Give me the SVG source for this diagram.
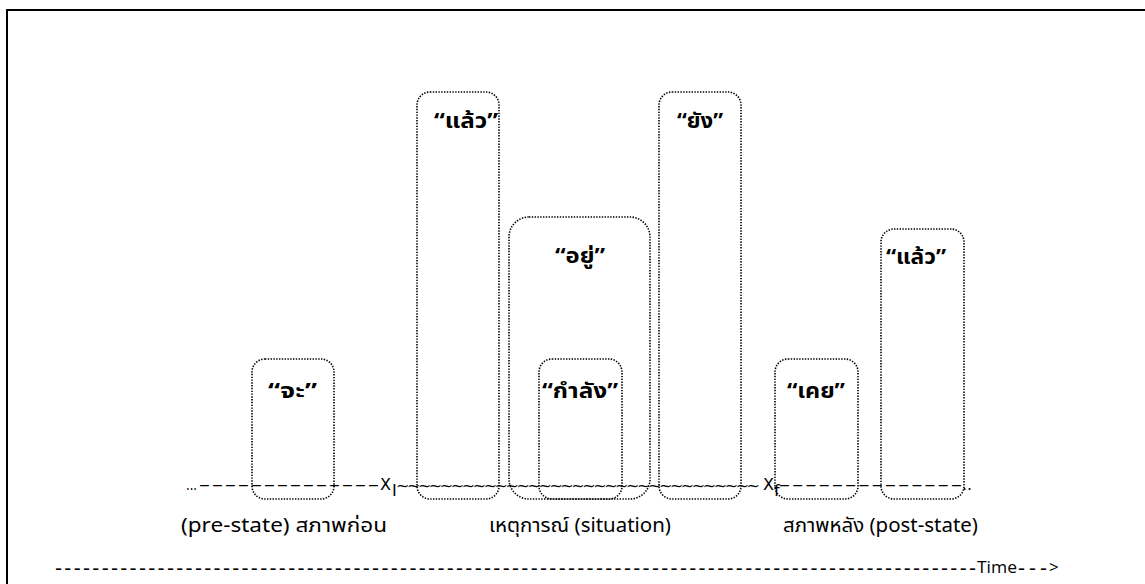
<svg xmlns="http://www.w3.org/2000/svg" width="1145" height="584" viewBox="0 0 1145 584">
<style>
.box{fill:none;stroke:#000;stroke-width:1.6;stroke-dasharray:1.4 1.4}
.lbl{font-family:"Noto Sans Thai","Loma","Noto Sans","DejaVu Sans",sans-serif;font-weight:bold;font-size:22px;fill:#000}
.tl{font-family:"DejaVu Sans","Noto Sans",sans-serif;font-size:16px;fill:#000}
.dash{font-family:"Liberation Sans","Noto Sans",sans-serif;font-size:16px;fill:#000}
.cap{font-family:"Noto Sans Thai","Loma","Noto Sans","DejaVu Sans",sans-serif;font-size:19px;fill:#000}
.time{font-family:"Open Sans","Noto Sans",sans-serif;font-size:17px;fill:#000}
.hy{font-family:"Liberation Sans","Noto Sans",sans-serif;font-size:21px;fill:#000}
</style>
<rect width="1145" height="584" fill="#fff"/>
<path d="M7 584 V10 H1145" fill="none" stroke="#000" stroke-width="2"/>
<g id="nodes">
<g id="ja"><rect class="box" x="252" y="359" width="82" height="140" rx="13"/><text class="lbl" x="268" y="398" textLength="49" lengthAdjust="spacingAndGlyphs">“จะ”</text></g>
<g id="laeo1"><rect class="box" x="417" y="92" width="82" height="407" rx="13"/><text class="lbl" x="434" y="128" textLength="64" lengthAdjust="spacingAndGlyphs">“แล้ว”</text></g>
<g id="yu"><rect class="box" x="509" y="217" width="141" height="282" rx="20"/><text class="lbl" x="555" y="263" textLength="50" lengthAdjust="spacingAndGlyphs">“อยู่”</text></g>
<g id="kamlang"><rect class="box" x="539" y="359" width="83" height="140" rx="13"/><text class="lbl" x="542" y="398" textLength="76" lengthAdjust="spacingAndGlyphs">“กำลัง”</text></g>
<g id="yang"><rect class="box" x="659" y="92" width="82" height="407" rx="13"/><text class="lbl" x="677" y="128" textLength="46" lengthAdjust="spacingAndGlyphs">“ยัง”</text></g>
<g id="khoei"><rect class="box" x="775" y="359" width="83" height="140" rx="13"/><text class="lbl" x="787" y="398" textLength="58" lengthAdjust="spacingAndGlyphs">“เคย”</text></g>
<g id="laeo2"><rect class="box" x="881" y="229" width="83" height="270" rx="13"/><text class="lbl" x="886" y="264" textLength="60" lengthAdjust="spacingAndGlyphs">“แล้ว”</text></g>
</g>
<g id="connectors">
<text class="tl" x="186" y="490" textLength="11" lengthAdjust="spacingAndGlyphs">...</text>
<text class="dash" x="200" y="490" textLength="178" lengthAdjust="spacing">––––––––––––––</text>
<text class="tl" x="380" y="490">X</text>
<text class="tl" x="392" y="496" font-size="9">I</text>
<text class="tl" x="396" y="491" textLength="364" lengthAdjust="spacing">~~~~~~~~~~~~~~~~~~~~~~~~~~~~~~~~~</text>
<text class="tl" x="763" y="490">X</text>
<text class="tl" x="774" y="496" font-size="9">f</text>
<text class="dash" x="780" y="490" textLength="181" lengthAdjust="spacing">––––––––––––––</text>
<text class="tl" x="962" y="490" textLength="10" lengthAdjust="spacingAndGlyphs">..</text>
</g>
<g id="captions">
<text class="cap" x="181" y="532" textLength="206" lengthAdjust="spacingAndGlyphs">(pre-state) สภาพก่อน</text>
<text class="cap" x="489" y="532" textLength="182" lengthAdjust="spacingAndGlyphs">เหตุการณ์ (situation)</text>
<text class="cap" x="783" y="532" textLength="195" lengthAdjust="spacingAndGlyphs">สภาพหลัง (post-state)</text>
</g>
<g id="axis">
<text class="hy" x="55" y="575" textLength="921" lengthAdjust="spacing">---------------------------------------------------------------------------------------------------</text>
<text class="time" x="977" y="573" textLength="40" lengthAdjust="spacingAndGlyphs">Time</text>
<text class="hy" x="1018" y="575" textLength="29" lengthAdjust="spacing">---</text>
<text class="time" x="1049" y="573">&gt;</text>
</g>
</svg>
